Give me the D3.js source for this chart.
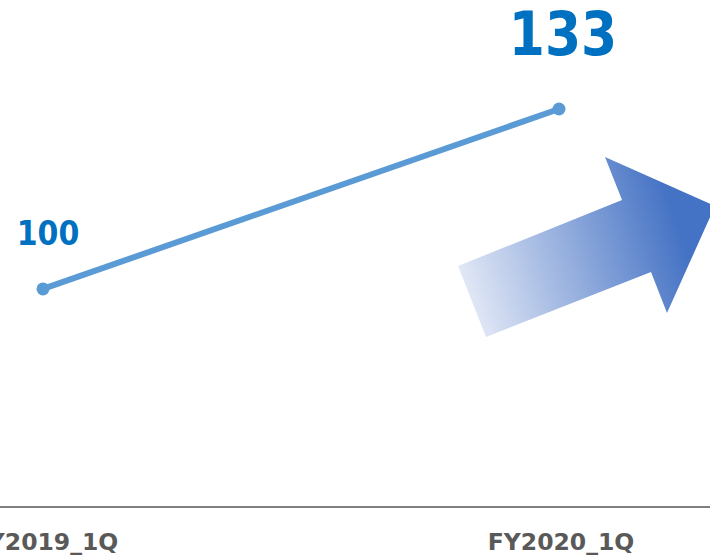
<!DOCTYPE html>
<html>
<head>
<meta charset="utf-8">
<script src="https://cdn.jsdelivr.net/npm/d3@7"></script>
<style>
  html, body { margin: 0; padding: 0; background: #fff; overflow: hidden; }
  svg { display: block; }
</style>
</head>
<body>
<svg id="chart" width="710" height="555"></svg>
<script>
const categories = ["FY2019_1Q", "FY2020_1Q"];
const values = [100, 133];
const valueLabels = ["100", "133"];

const W = 710, H = 555;
const svg = d3.select("#chart");

const x = d3.scalePoint().domain(categories).range([43, 559]);
const y = d3.scaleLinear().domain([60, 133]).range([507, 109]);

// gradient arrow (decoration)
const defs = svg.append("defs");
const grad = defs.append("linearGradient")
  .attr("id", "arrowGrad")
  .attr("gradientUnits", "userSpaceOnUse")
  .attr("x1", 462).attr("y1", 300).attr("x2", 680).attr("y2", 230);
grad.append("stop").attr("offset", "0%").attr("stop-color", "#e6ebf7");
grad.append("stop").attr("offset", "100%").attr("stop-color", "#4472c4");

const arrowPts = [[458, 266], [622, 200], [605, 157], [715, 206], [667, 313], [651, 272], [486, 337]];
svg.append("polygon")
  .attr("points", arrowPts.map(p => p.join(",")).join(" "))
  .attr("fill", "url(#arrowGrad)");

// axis baseline
svg.append("line")
  .attr("x1", 0).attr("x2", W)
  .attr("y1", y(60)).attr("y2", y(60))
  .attr("stroke", "#7f7f7f").attr("stroke-width", 2);

// x labels
svg.selectAll("text.xl").data(categories).enter().append("text")
  .attr("class", "xl")
  .attr("x", d => x(d) + 2)
  .attr("y", 550)
  .attr("text-anchor", "middle")
  .attr("font-family", "DejaVu Sans, Verdana, sans-serif")
  .attr("font-weight", "bold")
  .attr("font-size", 23.5)
  .attr("fill", "#595959")
  .text(d => d);

const pts = categories.map((c, i) => ({ c, v: values[i], l: valueLabels[i] }));

// line
svg.append("path")
  .datum(pts)
  .attr("fill", "none")
  .attr("stroke", "#5b9bd5")
  .attr("stroke-width", 6)
  .attr("d", d3.line().x(d => x(d.c)).y(d => y(d.v)));

svg.selectAll("circle.pt").data(pts).enter().append("circle")
  .attr("class", "pt")
  .attr("cx", d => x(d.c)).attr("cy", d => y(d.v))
  .attr("r", 6.5)
  .attr("fill", "#5b9bd5");

// value labels
svg.append("text")
  .attr("transform", `translate(${x(categories[0]) + 5},245) scale(1,1.1)`)
  .attr("text-anchor", "middle")
  .attr("font-family", "DejaVu Sans, Verdana, sans-serif")
  .attr("font-weight", "bold")
  .attr("font-size", 30)
  .attr("fill", "#0070c0")
  .text(valueLabels[0]);

svg.append("text")
  .attr("transform", `translate(${x(categories[1]) + 4},55) scale(1,1.15)`)
  .attr("text-anchor", "middle")
  .attr("font-family", "DejaVu Sans, Verdana, sans-serif")
  .attr("font-weight", "bold")
  .attr("font-size", 52)
  .attr("fill", "#0070c0")
  .text(valueLabels[1]);
</script>
</body>
</html>
